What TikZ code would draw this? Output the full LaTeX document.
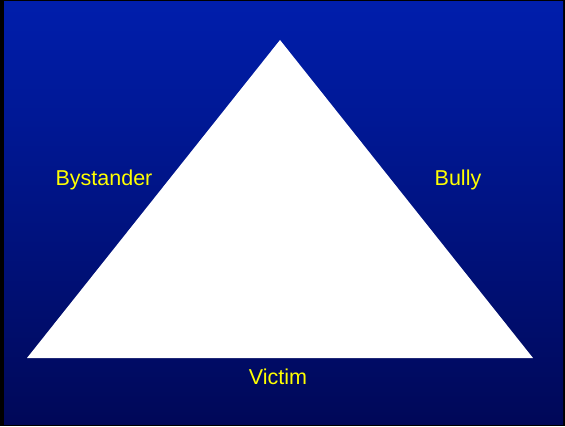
\documentclass[tikz,border=0pt]{standalone}
\usepackage{fontspec}
\setmainfont{Liberation Sans}
\definecolor{bgtop}{RGB}{0,30,172}
\definecolor{bgbot}{RGB}{0,8,88}
\definecolor{lbl}{RGB}{255,255,0}
\begin{document}
\begin{tikzpicture}[x=1pt,y=1pt,
  lab/.style={text=lbl,font=\fontsize{21.5}{24}\selectfont,inner sep=0pt}]
\useasboundingbox (0,0) rectangle (565,426);
\fill[black] (0,0) rectangle (565,426);
\shade[top color=bgtop,bottom color=bgbot] (4,2) rectangle (563,424);
\coordinate (apex) at (280,386);
\coordinate (bl) at (27,68);
\coordinate (br) at (533,68);
\fill[white] (apex) -- (br) -- (bl) -- cycle;
\node[lab] (bys) at (104,246) {Bystander};
\node[lab] (bully) at (458,246) {Bully};
\node[lab] (victim) at (278,49) {Victim};
\end{tikzpicture}
\end{document}
